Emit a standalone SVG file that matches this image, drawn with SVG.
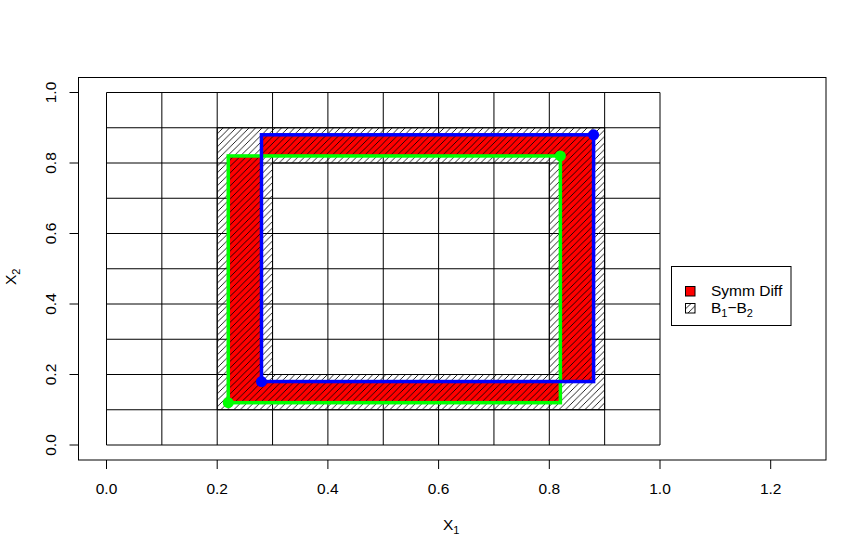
<svg xmlns="http://www.w3.org/2000/svg" width="867" height="558" viewBox="0 0 867 558">
<style>
.t{font-family:"Liberation Sans",Arial,sans-serif;font-size:15.5px;fill:#000}
.g{stroke:#000;stroke-width:1;fill:none}
.sub{font-size:11px}
</style>
<defs>
<pattern id="hatch" patternUnits="userSpaceOnUse" width="6.5" height="6.5">
<path d="M-1,1 L1,-1 M0,6.5 L6.5,0 M5.5,7.5 L7.5,5.5" stroke="#000" stroke-width="0.85"/>
</pattern>
</defs>
<rect width="867" height="558" fill="#fff"/>
<g id="grid" class="g">
<path d="M106.5,92.5 V445 M161.85,92.5 V445 M217.2,92.5 V445 M272.55,92.5 V445 M327.9,92.5 V445 M383.25,92.5 V445 M438.6,92.5 V445 M493.95,92.5 V445 M549.3,92.5 V445 M604.65,92.5 V445 M660,92.5 V445"/>
<path d="M106.5,92.5 H660 M106.5,127.75 H660 M106.5,163 H660 M106.5,198.25 H660 M106.5,233.5 H660 M106.5,268.75 H660 M106.5,304 H660 M106.5,339.25 H660 M106.5,374.5 H660 M106.5,409.75 H660 M106.5,445 H660"/>
</g>
<g id="symmdiff">
<path d="M228.27,155.95 H560.37 V402.7 H228.27 Z M261.48,134.8 H593.58 V381.55 H261.48 Z" fill="#ff0000" fill-rule="evenodd"/>
</g>
<g id="hatched">
<path d="M217.2,127.75 H604.65 V409.75 H217.2 Z M272.55,163 V374.5 H549.3 V163 Z" fill="url(#hatch)" fill-rule="evenodd" stroke="#000" stroke-width="1"/>
</g>
<g id="connectors">
<rect id="greenbox" x="228.27" y="155.95" width="332.1" height="246.75" fill="none" stroke="#00ff00" stroke-width="3.5"/>
<rect id="bluebox" x="261.48" y="134.8" width="332.1" height="246.75" fill="none" stroke="#0000ff" stroke-width="3.5"/>
</g>
<g id="points">
<circle cx="228.27" cy="402.7" r="5.5" fill="#00ff00"/>
<circle cx="560.37" cy="155.95" r="5.5" fill="#00ff00"/>
<circle cx="261.48" cy="381.55" r="5.5" fill="#0000ff"/>
<circle cx="593.58" cy="134.8" r="5.5" fill="#0000ff"/>
</g>
<g id="axes" class="g">
<rect x="78.5" y="77.5" width="747.5" height="382.5"/>
<path d="M106.5,460 V469 M217.2,460 V469 M327.9,460 V469 M438.6,460 V469 M549.3,460 V469 M660,460 V469 M770.7,460 V469"/>
<path d="M78.5,445 H69.5 M78.5,374.5 H69.5 M78.5,304 H69.5 M78.5,233.5 H69.5 M78.5,163 H69.5 M78.5,92.5 H69.5"/>
</g>
<g id="xlabels" class="t" text-anchor="middle">
<text x="106.5" y="494">0.0</text>
<text x="217.2" y="494">0.2</text>
<text x="327.9" y="494">0.4</text>
<text x="438.6" y="494">0.6</text>
<text x="549.3" y="494">0.8</text>
<text x="660" y="494">1.0</text>
<text x="770.7" y="494">1.2</text>
</g>
<g id="ylabels" class="t" text-anchor="middle">
<text transform="translate(56,445) rotate(-90)">0.0</text>
<text transform="translate(56,374.5) rotate(-90)">0.2</text>
<text transform="translate(56,304) rotate(-90)">0.4</text>
<text transform="translate(56,233.5) rotate(-90)">0.6</text>
<text transform="translate(56,163) rotate(-90)">0.8</text>
<text transform="translate(56,92.5) rotate(-90)">1.0</text>
</g>
<g id="xtitle">
<text class="t" x="443" y="530">X<tspan class="sub" dy="4">1</tspan></text>
</g>
<g id="ytitle">
<text class="t" transform="translate(16,285) rotate(-90)">X<tspan class="sub" dy="4">2</tspan></text>
</g>
<g id="legend">
<rect x="671.5" y="266.5" width="119.5" height="59" fill="#fff" stroke="#000" stroke-width="1"/>
<rect x="685.5" y="286.5" width="9.5" height="9.5" fill="#ff0000" stroke="#000" stroke-width="1"/>
<rect x="685.5" y="303.5" width="9.5" height="9.5" fill="url(#hatch)" stroke="#000" stroke-width="1"/>
<text class="t" x="711" y="296">Symm Diff</text>
<text class="t" x="711" y="313">B<tspan class="sub" dy="4">1</tspan><tspan dy="-4">−B</tspan><tspan class="sub" dy="4">2</tspan></text>
</g>
</svg>
